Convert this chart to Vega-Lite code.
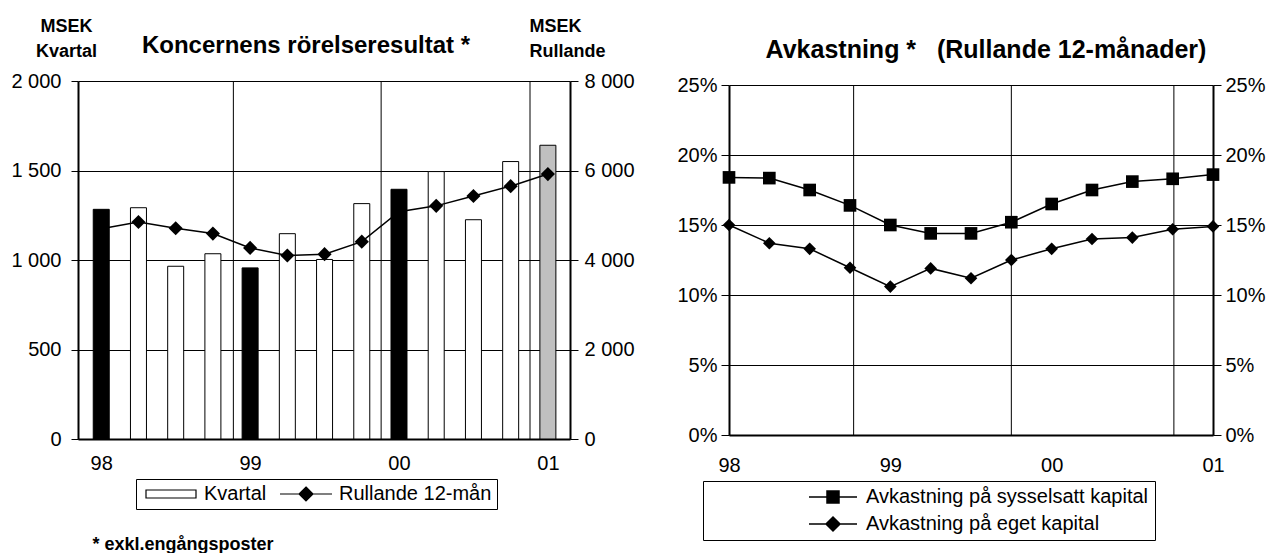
{
  "$schema": "https://vega.github.io/schema/vega-lite/v6.json",
  "background": "white",
  "padding": {"left": 10, "top": 17, "right": 0, "bottom": 0},
  "bounds": "flush",
  "center": true,
  "spacing": 159,
  "resolve": {
    "legend": {"fill": "independent", "stroke": "independent"},
    "scale": {"fill": "independent", "stroke": "independent"}
  },
  "config": {
    "font": "Liberation Sans",
    "view": {"stroke": null},
    "axis": {
      "labelFont": "Liberation Sans",
      "labelFontSize": 20,
      "labelColor": "black",
      "domainColor": "black",
      "domainWidth": 2,
      "tickColor": "black",
      "tickWidth": 1,
      "gridColor": "black",
      "gridOpacity": 1,
      "gridWidth": 1,
      "titleFont": "Liberation Sans",
      "titleColor": "black",
      "titleFontSize": 18,
      "titleFontWeight": "bold"
    },
    "legend": {"labelFont": "Liberation Sans", "labelColor": "black", "labelFontSize": 20, "labelLimit": 500},
    "title": {"font": "Liberation Sans", "fontSize": 24, "fontWeight": "bold", "color": "black"}
  },
  "hconcat": [
    {
      "width": 492,
      "height": 358,
      "title": {"text": "Koncernens rörelseresultat *", "anchor": "middle", "frame": "group", "dx": -18, "dy": 45},
      "encoding": {
        "x": {
          "field": "t",
          "type": "quantitative",
          "scale": {"domain": [-0.49, 12.46], "nice": false, "zero": false},
          "axis": {
            "values": [0, 4, 8, 12],
            "labelExpr": "datum.value == 0 ? '98' : datum.value == 4 ? '99' : datum.value == 8 ? '00' : '01'",
            "grid": false,
            "ticks": false,
            "labelFlush": false,
            "labelOverlap": false,
            "labelPadding": 14,
            "title": "* exkl.engångsposter",
            "titleAlign": "left",
            "titleAnchor": "start",
            "titleX": 14,
            "titleY": 110,
            "titleBaseline": "alphabetic"
          }
        }
      },
      "layer": [
        {
          "data": {"values": [{"t": 3.55}, {"t": 7.52}, {"t": 11.52}]},
          "mark": {"type": "rule", "color": "black", "strokeWidth": 1}
        },
        {
          "data": {
            "values": [
              {"t": 0, "kvartal": 1283, "typ": "svart", "serie": "Kvartal"},
              {"t": 1, "kvartal": 1292, "typ": "vit", "serie": "Kvartal"},
              {"t": 2, "kvartal": 965, "typ": "vit", "serie": "Kvartal"},
              {"t": 3, "kvartal": 1035, "typ": "vit", "serie": "Kvartal"},
              {"t": 4, "kvartal": 956, "typ": "svart", "serie": "Kvartal"},
              {"t": 5, "kvartal": 1147, "typ": "vit", "serie": "Kvartal"},
              {"t": 6, "kvartal": 1003, "typ": "vit", "serie": "Kvartal"},
              {"t": 7, "kvartal": 1315, "typ": "vit", "serie": "Kvartal"},
              {"t": 8, "kvartal": 1395, "typ": "svart", "serie": "Kvartal"},
              {"t": 9, "kvartal": 1494, "typ": "vit", "serie": "Kvartal"},
              {"t": 10, "kvartal": 1225, "typ": "vit", "serie": "Kvartal"},
              {"t": 11, "kvartal": 1550, "typ": "vit", "serie": "Kvartal"},
              {"t": 12, "kvartal": 1641, "typ": "grå", "serie": "Kvartal"}
            ]
          },
          "mark": {"type": "bar", "width": 16, "stroke": "black", "strokeWidth": 1},
          "encoding": {
            "y": {
              "field": "kvartal",
              "type": "quantitative",
              "scale": {"domain": [0, 2000], "nice": false},
              "axis": {
                "values": [0, 500, 1000, 1500, 2000],
                "labelExpr": "replace(format(datum.value, ','), ',', ' ')",
                "grid": true,
                "tickSize": 7,
                "labelPadding": 10,
                "title": ["MSEK", "Kvartal"],
                "titleAngle": 0,
                "titleAlign": "center",
                "titleBaseline": "alphabetic",
                "titleX": -12,
                "titleY": -50,
                "titleLineHeight": 25
              }
            },
            "fill": {
              "field": "serie",
              "type": "nominal",
              "scale": {"domain": ["Kvartal", "Rullande 12-mån"], "range": ["white", "black"]},
              "condition": [
                {"test": "datum.typ === 'svart'", "value": "black"},
                {"test": "datum.typ === 'grå'", "value": "#c0c0c0"}
              ],
              "legend": {
                "title": null,
                "orient": "none",
                "legendX": 58,
                "legendY": 398,
                "direction": "horizontal",
                "columns": 2,
                "strokeColor": "black",
                "padding": 5,
                "cornerRadius": 0,
                "symbolSize": 256,
                "symbolOffset": 20,
                "symbolStrokeColor": "black",
                "symbolStrokeWidth": 1.2,
                "labelOffset": 23,
                "columnPadding": 9,
                "encode": {
                  "symbols": {
                    "update": {
                      "shape": {"signal": "datum.value === 'Kvartal' ? 'M-3.125,-0.5H3.125V0.5H-3.125Z' : 'M-3.25,0H3.25M0,-0.875L0.875,0L0,0.875L-0.875,0Z'"},
                      "stroke": {"value": "black"},
                      "strokeWidth": {"value": 1.2}
                    }
                  }
                }
              }
            }
          }
        },
        {
          "data": {
            "values": [
              {"t": 0, "rullande": 4700},
              {"t": 1, "rullande": 4850},
              {"t": 2, "rullande": 4710},
              {"t": 3, "rullande": 4590},
              {"t": 4, "rullande": 4270},
              {"t": 5, "rullande": 4100},
              {"t": 6, "rullande": 4130},
              {"t": 7, "rullande": 4410},
              {"t": 8, "rullande": 5080},
              {"t": 9, "rullande": 5210},
              {"t": 10, "rullande": 5430},
              {"t": 11, "rullande": 5650},
              {"t": 12, "rullande": 5920}
            ]
          },
          "encoding": {
            "y": {
              "field": "rullande",
              "type": "quantitative",
              "scale": {"domain": [0, 8000], "nice": false},
              "axis": {
                "orient": "right",
                "values": [0, 2000, 4000, 6000, 8000],
                "labelExpr": "replace(format(datum.value, ','), ',', ' ')",
                "grid": false,
                "tickSize": 8,
                "labelPadding": 6,
                "title": ["MSEK", "Rullande"],
                "titleAngle": 0,
                "titleAlign": "left",
                "titleBaseline": "alphabetic",
                "titleX": -41,
                "titleY": -50,
                "titleLineHeight": 25
              }
            }
          },
          "layer": [
            {"mark": {"type": "line", "color": "black", "strokeWidth": 1.5}},
            {"mark": {"type": "point", "shape": "diamond", "filled": true, "color": "black", "opacity": 1, "size": 200}}
          ]
        }
      ],
      "resolve": {"scale": {"y": "independent"}}
    },
    {
      "width": 484,
      "height": 350,
      "title": {"text": "Avkastning * \u00a0 (Rullande 12-månader)", "anchor": "middle", "frame": "group", "dx": 15, "dy": -8, "fontSize": 25},
      "encoding": {
        "x": {
          "field": "t",
          "type": "quantitative",
          "scale": {"domain": [0, 12], "nice": false, "zero": false},
          "axis": {
            "values": [0, 4, 8, 12],
            "labelExpr": "datum.value == 0 ? '98' : datum.value == 4 ? '99' : datum.value == 8 ? '00' : '01'",
            "grid": false,
            "ticks": false,
            "labelFlush": false,
            "labelOverlap": false,
            "labelPadding": 20,
            "title": null
          }
        }
      },
      "layer": [
        {
          "data": {"values": [{"t": 3.09}, {"t": 7.0}, {"t": 11.03}]},
          "mark": {"type": "rule", "color": "black", "strokeWidth": 1}
        },
        {
          "data": {
            "values": [
              {"t": 0, "serie": "Avkastning på sysselsatt kapital", "v": 18.4},
              {"t": 1, "serie": "Avkastning på sysselsatt kapital", "v": 18.35},
              {"t": 2, "serie": "Avkastning på sysselsatt kapital", "v": 17.5},
              {"t": 3, "serie": "Avkastning på sysselsatt kapital", "v": 16.4},
              {"t": 4, "serie": "Avkastning på sysselsatt kapital", "v": 15.0},
              {"t": 5, "serie": "Avkastning på sysselsatt kapital", "v": 14.4},
              {"t": 6, "serie": "Avkastning på sysselsatt kapital", "v": 14.4},
              {"t": 7, "serie": "Avkastning på sysselsatt kapital", "v": 15.2},
              {"t": 8, "serie": "Avkastning på sysselsatt kapital", "v": 16.5},
              {"t": 9, "serie": "Avkastning på sysselsatt kapital", "v": 17.5},
              {"t": 10, "serie": "Avkastning på sysselsatt kapital", "v": 18.1},
              {"t": 11, "serie": "Avkastning på sysselsatt kapital", "v": 18.3},
              {"t": 12, "serie": "Avkastning på sysselsatt kapital", "v": 18.6},
              {"t": 0, "serie": "Avkastning på eget kapital", "v": 15.0},
              {"t": 1, "serie": "Avkastning på eget kapital", "v": 13.7},
              {"t": 2, "serie": "Avkastning på eget kapital", "v": 13.3},
              {"t": 3, "serie": "Avkastning på eget kapital", "v": 11.95},
              {"t": 4, "serie": "Avkastning på eget kapital", "v": 10.6},
              {"t": 5, "serie": "Avkastning på eget kapital", "v": 11.9},
              {"t": 6, "serie": "Avkastning på eget kapital", "v": 11.2},
              {"t": 7, "serie": "Avkastning på eget kapital", "v": 12.5},
              {"t": 8, "serie": "Avkastning på eget kapital", "v": 13.3},
              {"t": 9, "serie": "Avkastning på eget kapital", "v": 14.0},
              {"t": 10, "serie": "Avkastning på eget kapital", "v": 14.1},
              {"t": 11, "serie": "Avkastning på eget kapital", "v": 14.7},
              {"t": 12, "serie": "Avkastning på eget kapital", "v": 14.9}
            ]
          },
          "layer": [
            {
              "mark": {"type": "line", "strokeWidth": 1.5},
              "encoding": {
                "y": {
                  "field": "v",
                  "type": "quantitative",
                  "scale": {"domain": [0, 25], "nice": false},
                  "axis": {
                    "orient": "left",
                    "values": [0, 5, 10, 15, 20, 25],
                    "labelExpr": "datum.value + '%'",
                    "grid": true,
                    "tickSize": 8,
                    "labelPadding": 4,
                    "title": null
                  }
                },
                "stroke": {
                  "field": "serie",
                  "type": "nominal",
                  "scale": {
                    "domain": ["Avkastning på sysselsatt kapital", "Avkastning på eget kapital"],
                    "range": ["black", "black"]
                  },
                  "legend": {
                    "title": null,
                    "orient": "none",
                    "legendX": -26,
                    "legendY": 396,
                    "direction": "vertical",
                    "strokeColor": "black",
                    "padding": 6,
                    "cornerRadius": 0,
                    "symbolOffset": 114,
                    "symbolSize": 256,
                    "symbolFillColor": "black",
                    "symbolStrokeColor": "black",
                    "symbolStrokeWidth": 1.5,
                    "labelOffset": 23,
                    "rowPadding": 7,
                    "encode": {
                      "symbols": {
                        "update": {
                          "shape": {"signal": "datum.value === 'Avkastning på sysselsatt kapital' ? 'M-3,0H3M-0.75,-0.75H0.75V0.75H-0.75Z' : 'M-3,0H3M0,-0.875L0.875,0L0,0.875L-0.875,0Z'"},
                          "fill": {"value": "black"},
                          "stroke": {"value": "black"},
                          "strokeWidth": {"value": 1.5}
                        }
                      }
                    }
                  }
                }
              }
            },
            {
              "mark": {"type": "point", "filled": true, "color": "black", "opacity": 1, "size": 160},
              "encoding": {
                "y": {
                  "field": "v",
                  "type": "quantitative",
                  "scale": {"domain": [0, 25], "nice": false},
                  "axis": {
                    "orient": "right",
                    "values": [0, 5, 10, 15, 20, 25],
                    "labelExpr": "datum.value + '%'",
                    "grid": false,
                    "tickSize": 8,
                    "labelPadding": 4,
                    "title": null
                  }
                },
                "shape": {
                  "condition": {"test": "datum.serie === 'Avkastning på eget kapital'", "value": "diamond"},
                  "value": "square"
                }
              }
            }
          ],
          "resolve": {"axis": {"y": "independent"}}
        }
      ]
    }
  ]
}
